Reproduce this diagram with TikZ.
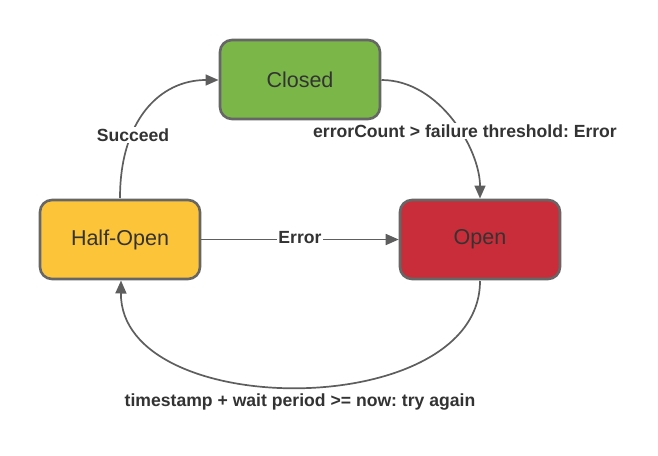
\documentclass[tikz,border=0pt]{standalone}
\usepackage{fontspec}
\setmainfont{Liberation Sans}
\frenchspacing
\usetikzlibrary{arrows.meta}
\definecolor{linegray}{HTML}{5E5E5E}
\definecolor{boxborder}{HTML}{666666}
\definecolor{txt}{HTML}{333333}
\definecolor{cgreen}{HTML}{7AB648}
\definecolor{cyellow}{HTML}{FCC438}
\definecolor{cred}{HTML}{C92D39}
\tikzset{
  state/.style={draw=boxborder, line width=2.6pt, rounded corners=12pt,
    minimum width=160pt, minimum height=79pt, inner sep=0pt,
    text=txt, font=\fontsize{21.5}{24}\selectfont},
  conn/.style={draw=linegray, line width=1.7pt, -{Triangle[length=13pt,width=11pt]}},
  elabel/.style={fill=white, text=txt, inner sep=1.5pt, font=\fontsize{17.6}{20}\selectfont\bfseries}
}
\begin{document}
\begin{tikzpicture}[x=1pt,y=-1pt]
\useasboundingbox (0,0) rectangle (658,455);
\node[state, fill=cgreen] (closed) at (300,79.5) {Closed};
\node[state, fill=cyellow] (half) at (120,239.5) {Half-Open};
\node[state, fill=cred] (open) at (480,239.5) {Open};
\coordinate (hTop) at (120,198);
\coordinate (cLeft) at (218.5,80);
\coordinate (cRight) at (381.5,80);
\coordinate (oTop) at (480,198.5);
\coordinate (oBot) at (480,281);
\coordinate (hBot) at (121,280.5);
\draw[conn] (hTop) .. controls (120,120) and (160,80) .. (cLeft);
\draw[conn] (cRight) .. controls (440,80) and (480,150) .. (oTop);
\draw[conn] (half.east) -- (open.west);
\draw[conn] (oBot) .. controls (480,422) and (120,422) .. (hBot);
\node[elabel] (lsucc) at (133,135) {Succeed};
\node[elabel] (lerrc) at (465,131) {errorCount > failure threshold: Error};
\node[elabel] (lerr) at (300,238) {Error};
\node[elabel] (ltime) at (300,402) {timestamp + wait period >= now: try again};
\end{tikzpicture}
\end{document}
